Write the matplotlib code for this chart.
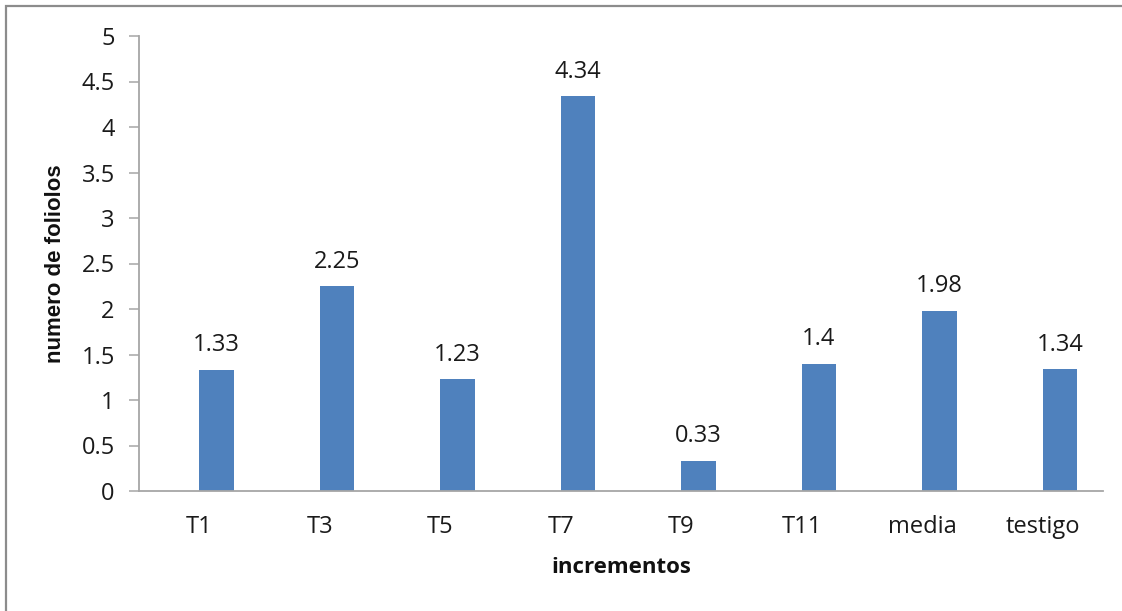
import matplotlib
matplotlib.use("Agg")
import matplotlib.pyplot as plt
from matplotlib.patches import Rectangle

categories = ["T1", "T3", "T5", "T7", "T9", "T11", "media", "testigo"]
values = [1.33, 2.25, 1.23, 4.34, 0.33, 1.4, 1.98, 1.34]
value_labels = ["1.33", "2.25", "1.23", "4.34", "0.33", "1.4", "1.98", "1.34"]
yticks = [0, 0.5, 1, 1.5, 2, 2.5, 3, 3.5, 4, 4.5, 5]
ytick_labels = ["0", "0.5", "1", "1.5", "2", "2.5", "3", "3.5", "4", "4.5", "5"]

W, H = 1122, 611
fig = plt.figure(figsize=(W / 100, H / 100), dpi=100)
fig.patch.set_facecolor("white")

# outer chart border
fig.add_artist(Rectangle((6 / W, -0.01), 1.02, 1 - 6 / H + 0.01, transform=fig.transFigure,
                         fill=False, edgecolor="#8c8c8c", linewidth=1.6))

ax = fig.add_axes([139 / W, 1 - 491 / H, (1103 - 139) / W, (491 - 36) / H])

FONT = "Open Sans"
TXT = "#1a1a1a"
bar_color = "#4F81BD"
x = list(range(len(categories)))
bw = 0.285
ax.bar(x, values, width=bw, align="edge", color=bar_color, edgecolor="none", zorder=2)

for xi, v, lab in zip(x, values, value_labels):
    ax.annotate(lab, (xi + bw / 2, v), xytext=(0, 9), textcoords="offset points",
                ha="center", va="bottom", fontsize=17, family=FONT, color=TXT)

ax.set_xlim(-0.5, len(categories) - 0.5)
ax.set_ylim(0, 5)
ax.set_yticks(yticks)
ax.set_yticklabels(ytick_labels, family=FONT, fontsize=17, color=TXT)
ax.set_xticks(x)
ax.set_xticklabels(categories, family=FONT, fontsize=17, color=TXT)

for s in ["top", "right"]:
    ax.spines[s].set_visible(False)
for s in ["left", "bottom"]:
    ax.spines[s].set_color("#a6a6a6")
    ax.spines[s].set_linewidth(1.3)

ax.tick_params(axis="y", length=7.5, width=1.1, color="#a6a6a6", direction="out", pad=10)
ax.tick_params(axis="x", length=0, pad=17)

ax.set_xlabel("incrementos", family=FONT, fontweight="bold", fontsize=16, labelpad=13,
              color="#111111")
ax.set_ylabel("numero de foliolos", family="Liberation Sans", fontweight="bold", fontsize=16,
              labelpad=0, color="#111111")
ax.yaxis.set_label_coords(-(139 - 66) / (1103 - 139), 0.5)

fig.savefig("out.png", dpi=100, facecolor="white")
